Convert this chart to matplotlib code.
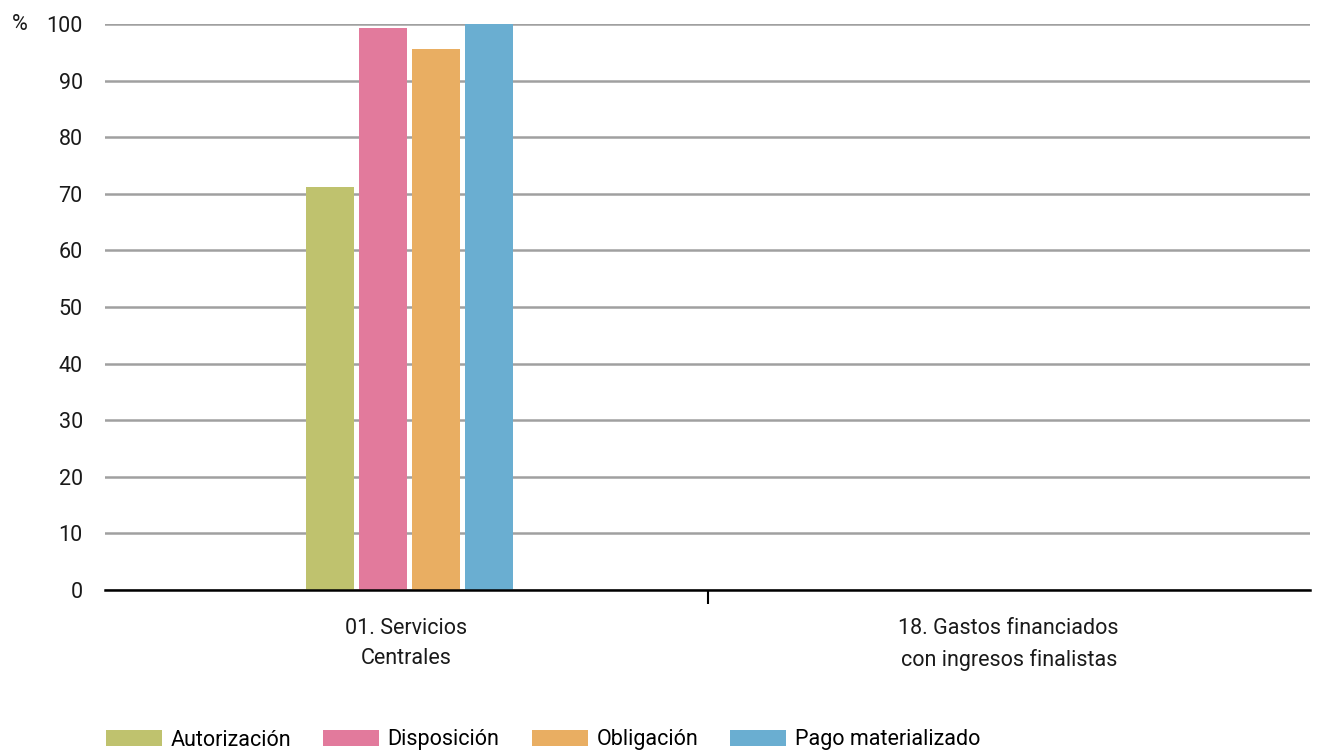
import numpy as np
import matplotlib.pyplot as plt

plt.rcParams['font.family'] = ['Roboto', 'DejaVu Sans']

categories = ['01. Servicios\nCentrales', '18. Gastos financiados\ncon ingresos finalistas']
series = ['Autorización', 'Disposición', 'Obligación', 'Pago materializado']
autorizacion = [71.2, np.nan]
disposicion = [99.3, np.nan]
obligacion = [95.6, np.nan]
pago = [100.0, np.nan]
values = [autorizacion, disposicion, obligacion, pago]
colors = ['#BFC26E', '#E27A9C', '#E9AE62', '#6AAED1']

fig = plt.figure(figsize=(13.25, 7.53), dpi=100)
ax = fig.add_axes([105 / 1325, 1 - 590 / 753, 1205 / 1325, 566 / 753])

x = np.arange(len(categories))
slot = 0.088
for i, (name, vals, c) in enumerate(zip(series, values, colors)):
    ax.bar(x + (i - 1.5) * slot + 0.005, vals, width=0.08, color=c, label=name, zorder=3)

ax.set_xlim(-0.5, 1.5)
ax.set_ylim(0, 100)
ax.set_yticks(range(0, 101, 10))
ax.yaxis.grid(True, color='#A0A0A0', linewidth=1.8, zorder=0)
ax.tick_params(axis='y', length=0, pad=16, labelsize=15.5, labelcolor='#1a1a1a')

ax.set_xticks([0.5])
ax.set_xticklabels([''])
ax.set_xticks(x, minor=True)
ax.set_xticklabels(categories, minor=True, fontsize=15.5, color='#1a1a1a', linespacing=1.6)
ax.tick_params(axis='x', which='major', length=10, width=1.5, color='black')
ax.tick_params(axis='x', which='minor', length=0, pad=20)

for s in ['top', 'right', 'left']:
    ax.spines[s].set_visible(False)
ax.spines['bottom'].set_linewidth(1.8)
ax.spines['bottom'].set_zorder(4)

fig.text(12 / 1325, 1 - 24 / 753, '%', fontsize=15.5, va='center', color='#1a1a1a')

fig.legend(loc='center left', bbox_to_anchor=(97 / 1325, 1 - 740 / 753), ncol=4,
           frameon=False, fontsize=15.5, handlelength=2.6, handleheight=0.75,
           columnspacing=1.5, handletextpad=0.4, borderaxespad=0)

fig.savefig('out.png', dpi=100)
